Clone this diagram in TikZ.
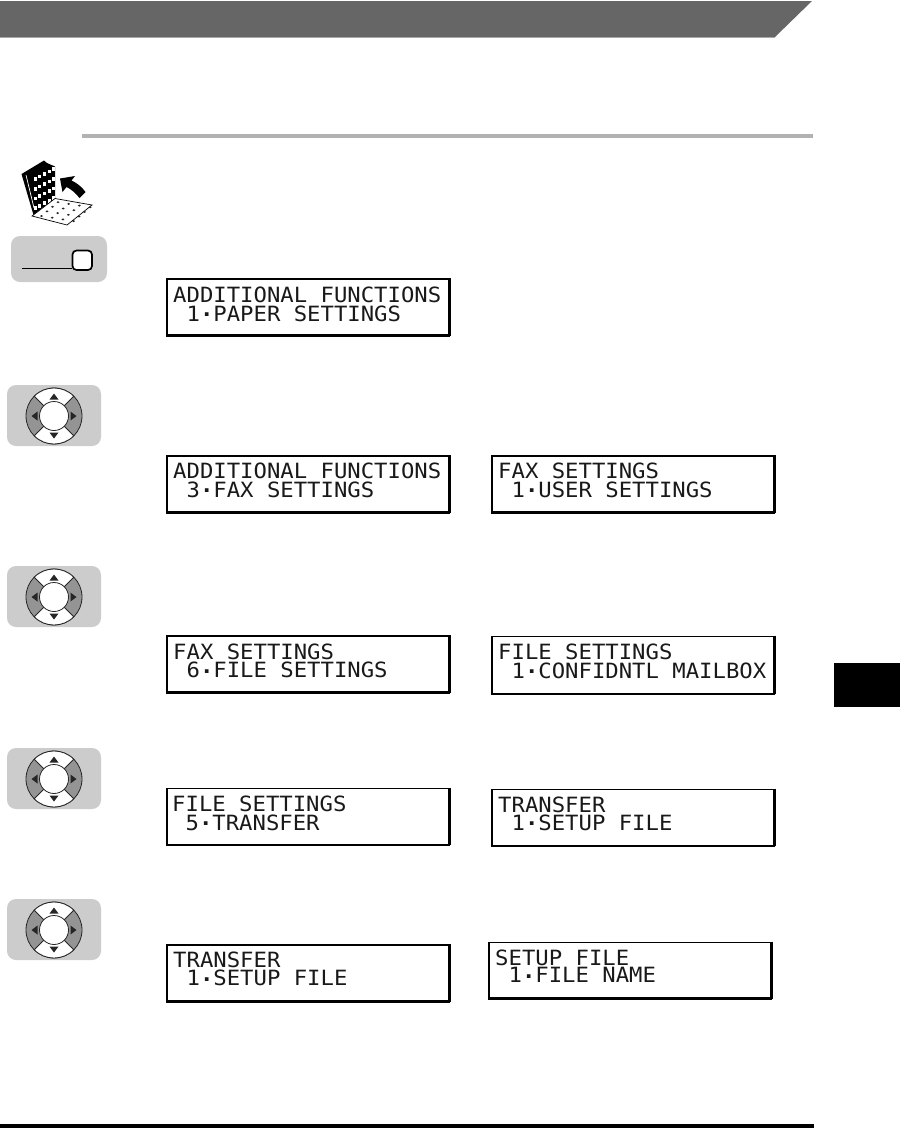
\documentclass[tikz,border=0pt]{standalone}
\usepackage{fontspec}
\newfontfamily\lcdfont[FakeStretch=1.06]{DejaVu Sans Mono}
\newcommand{\dotp}{\raisebox{0.2em}{\bfseries .}}
\tikzset{
  band/.style={fill=black!60,draw=none},
  rulegray/.style={fill=black!30,draw=none},
  inkblack/.style={fill=black,draw=none},
  lcdframe/.style={draw=black,fill=white,line width=1.5pt},
  lcdshade/.style={draw=black,line width=1.2pt},
  lcdline/.style={anchor=base west,inner sep=0pt,text height=15pt,text depth=0pt,font=\lcdfont\fontsize{21}{23}\selectfont,text=black!90},
  panel/.style={fill=black!20,draw=none,rounded corners=9pt},
  wheelseg/.style={draw=black!85,line width=0.8pt},
  tri/.style={fill=black!85,draw=none},
  pics/dpad/.style={code={
    \fill[panel] (-47,-31) rectangle (47,30);
    \filldraw[wheelseg,fill=black!42] (0,0) circle (28);
    \filldraw[wheelseg,fill=white] (0,0) -- (45:28) arc (45:135:28) -- cycle;
    \filldraw[wheelseg,fill=white] (0,0) -- (-45:28) arc (-45:-135:28) -- cycle;
    \filldraw[wheelseg,fill=white] (0,0) circle (14.5);
    \fill[tri] (0,-22.5) -- (4.5,-16.5) -- (-4.5,-16.5) -- cycle;
    \fill[tri] (0,22.5) -- (4.5,16.5) -- (-4.5,16.5) -- cycle;
    \fill[tri] (-22.5,0) -- (-16.5,4.5) -- (-16.5,-4.5) -- cycle;
    \fill[tri] (22.5,0) -- (16.5,4.5) -- (16.5,-4.5) -- cycle;
  }}
}
\newcommand{\lcd}[9]{% name x y h textx base1 base2 line1 line2
  \node[lcdframe,anchor=north west,inner sep=0pt,minimum width=282pt,minimum height=#4pt] (#1) at (#2,#3) {};
  \draw[lcdshade] ([xshift=0.8pt]#1.north east) -- ([xshift=0.8pt]#1.south east);
  \draw[lcdshade] ([yshift=-0.8pt]#1.south west) -- ([yshift=-0.8pt]#1.south east);
  \node[lcdline] (#1a) at (#5,#3+#6) {#8};
  \node[lcdline] (#1b) at (#5,#3+#7) {\phantom{A}#9};
}
\begin{document}
\begin{tikzpicture}[x=1pt,y=-1pt]
\useasboundingbox (0,0) rectangle (900,1128);
\fill[white] (0,0) rectangle (900,1128);
% header
\fill[rulegray] (0,36) rectangle (775,38);
\fill[band] (0,1) -- (812,1) -- (775,37) -- (0,37) -- cycle;
\fill[rulegray] (82,134) rectangle (812.5,138);
\fill[inkblack] (834,663) rectangle (900,707);
\fill[inkblack] (0,1124) rectangle (813.5,1128);
% book icon
\fill[black] (21.5,174) -- (44,160.5) -- (47,163) -- (55,166.5) -- (55,198) -- (33.5,215) -- cycle;
\draw[white,line width=0.7pt] (26,175) -- (34,208);
\foreach \r in {0,1,2,3} \foreach \c in {0,1,2,3,4}
  \fill[white] (33.5+\c*4.7,177.3-\c*2.5+\r*9.7) rectangle +(3,3.6);
\filldraw[black,fill=white,line width=0.7pt] (32,216) -- (55,198.5) -- (92,205) -- (67,225) -- cycle;
\foreach \r in {0,1,2,3} \foreach \c in {0,1,2,3}
  \fill[black!85] (41.5+\c*10.7+\r*5.5,216-\c*-1.7-\r*4.6) ellipse (1.5 and 1);
\fill[black] (60,178.5) -- (75,176) -- (71.5,180.5) .. controls (77,183) and (82,187) .. (85.5,192) -- (79.5,198) .. controls (76,193.5) and (71,189) .. (66.5,187) -- (62.5,192) -- cycle;
% key
\fill[panel] (11,236) rectangle (107,282);
\draw[black,line width=1pt] (22,268) -- (72,268);
\draw[black,line width=1.7pt,fill=white,rounded corners=4pt] (72.5,250.5) rectangle (92,270);
% dpads
\pic at (54,416) {dpad};
\pic at (54,597) {dpad};
\pic at (54,779) {dpad};
\pic at (54,930) {dpad};
% displays
\lcd{a}{166}{278}{56}{173}{24}{43}{ADDITIONAL FUNCTIONS}{1\dotp PAPER SETTINGS}
\lcd{b}{166}{455}{56}{173}{23.5}{42}{ADDITIONAL FUNCTIONS}{3\dotp FAX SETTINGS}
\lcd{c}{491}{455}{56}{498}{23.5}{42}{FAX SETTINGS}{1\dotp USER SETTINGS}
\lcd{d}{166}{635}{56}{173}{24}{42.5}{FAX SETTINGS}{6\dotp FILE SETTINGS}
\lcd{e}{491}{635.5}{57}{498}{24}{42.5}{FILE SETTINGS}{1\dotp CONFIDNTL MAILBOX}
\lcd{f}{166}{787.5}{56}{172}{23.5}{42.5}{FILE SETTINGS}{5\dotp TRANSFER}
\lcd{g}{491}{788.5}{56}{498}{23.5}{41.5}{TRANSFER}{1\dotp SETUP FILE}
\lcd{h}{166}{944}{56}{173}{23}{41.5}{TRANSFER}{1\dotp SETUP FILE}
\lcd{i}{488}{941.5}{55.5}{495}{23.5}{41}{SETUP FILE}{1\dotp FILE NAME}
\end{tikzpicture}
\end{document}
